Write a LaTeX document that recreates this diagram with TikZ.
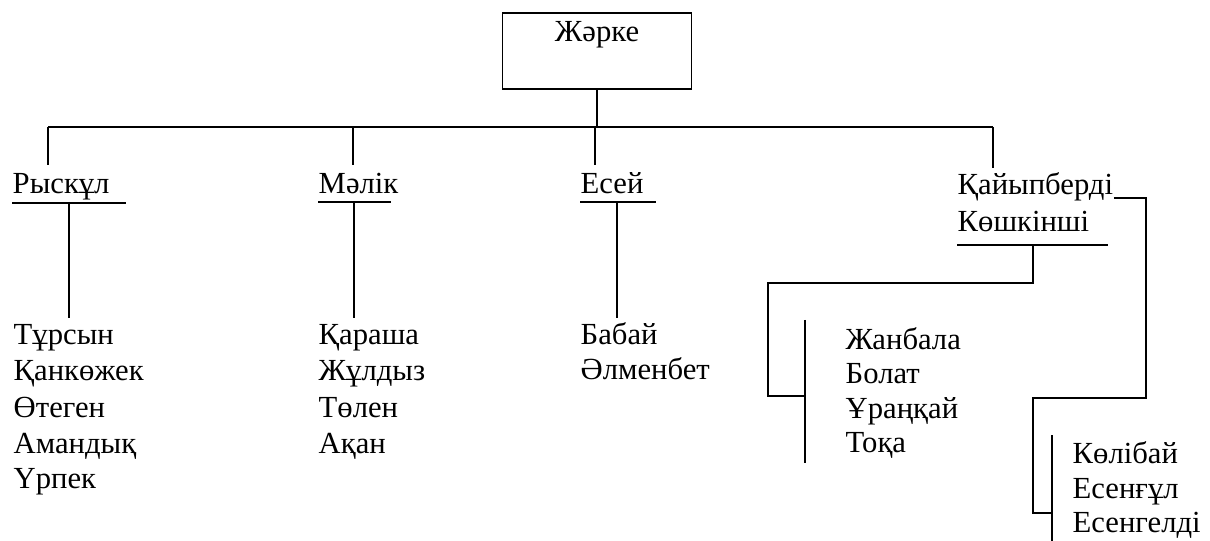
\documentclass[tikz,border=0pt]{standalone}
\usepackage{fontspec}
\setmainfont{Liberation Serif}
\usepackage{tikz}

\tikzset{
  person/.style={anchor=base west, inner sep=0pt, font=\fontsize{23}{28}\selectfont},
  uline/.style={line width=1.4pt},
}

\begin{document}
\begin{tikzpicture}[x={(0.75pt,0pt)}, y={(0pt,-0.75pt)}, line width=1.1pt]
\useasboundingbox (0,0) rectangle (1210,541);

\node[draw, minimum width=141.75pt, minimum height=57pt] (root) at (597,51) {};
\node[anchor=base, inner sep=0pt, font=\fontsize{23}{28}\selectfont] (jarke) at (597,42) {Жәрке};

% sons
\node[person] (r) at (12,194) {Рыскұл};
\node[person] (m) at (318,194) {Мәлік};
\node[person] (e) at (580,194) {Есей};
\node[person] (q) at (957,195) {Қайыпберді};
\node[person] (k) at (957,232) {Көшкінші};

% grandsons
\node[person] (r1) at (13,345) {Тұрсын};
\node[person] (r2) at (13,381) {Қанкөжек};
\node[person] (r3) at (13,417) {Өтеген};
\node[person] (r4) at (13,453) {Амандық};
\node[person] (r5) at (13,488) {Үрпек};

\node[person] (m1) at (318,345) {Қараша};
\node[person] (m2) at (318,381) {Жұлдыз};
\node[person] (m3) at (318,417) {Төлен};
\node[person] (m4) at (318,453) {Ақан};

\node[person] (e1) at (580,345) {Бабай};
\node[person] (e2) at (580,380) {Әлменбет};

\node[person] (k1) at (845,350) {Жанбала};
\node[person] (k2) at (845,384) {Болат};
\node[person] (k3) at (845,418) {Ұраңқай};
\node[person] (k4) at (845,452) {Тоқа};

\node[person] (q1) at (1072,463) {Көлібай};
\node[person] (q2) at (1072,498) {Есенғұл};
\node[person] (q3) at (1072,532) {Есенгелді};

% top bar
\coordinate (b1) at (48,127);
\coordinate (b2) at (353,127);
\coordinate (b3) at (595,127);
\coordinate (b4) at (993,127);
\draw (b1) -- (b4);
\draw (root.south) -- (root.south |- b3);
\draw (b1) -- ++(0,38);
\draw (b2) -- ++(0,38);
\draw (b3) -- ++(0,38);
\draw (b4) -- ++(0,41);

% underlines
\draw[uline] ([yshift=-6.75pt]r.base west) -- ++(114,0);
\draw[uline] ([yshift=-6pt]m.base west) -- ++(73,0);
\draw[uline] ([yshift=-6pt]e.base west) -- ++(76,0);
\draw[uline] ([yshift=-9.75pt]k.base west) -- ++(151,0);

\coordinate (u1) at (69,202);
\coordinate (u2) at (354,202);
\coordinate (u3) at (617,202);
\draw[uline] (u1) -- ++(0,116);
\draw[uline] (u2) -- ++(0,116);
\draw[uline] (u3) -- ++(0,116);

% Көшкінші
\coordinate (u4) at (1033,245);
\coordinate (c1) at (768,283);
\coordinate (c2) at (805,396);
\coordinate (k0) at (805,320);
\draw (u4) |- (c1) |- (c2);
\draw (k0) -- ++(0,143);

% Қайыпберді
\coordinate (c3) at (1146,398);
\coordinate (c4) at (1033,513);
\coordinate (c5) at (1052,513);
\coordinate (q0) at (1052,435);
\draw ([yshift=-2.25pt]q.base east) -| (c3) -| (c4) -- (c5);
\draw (q0) -- ++(0,110);
\end{tikzpicture}
\end{document}
